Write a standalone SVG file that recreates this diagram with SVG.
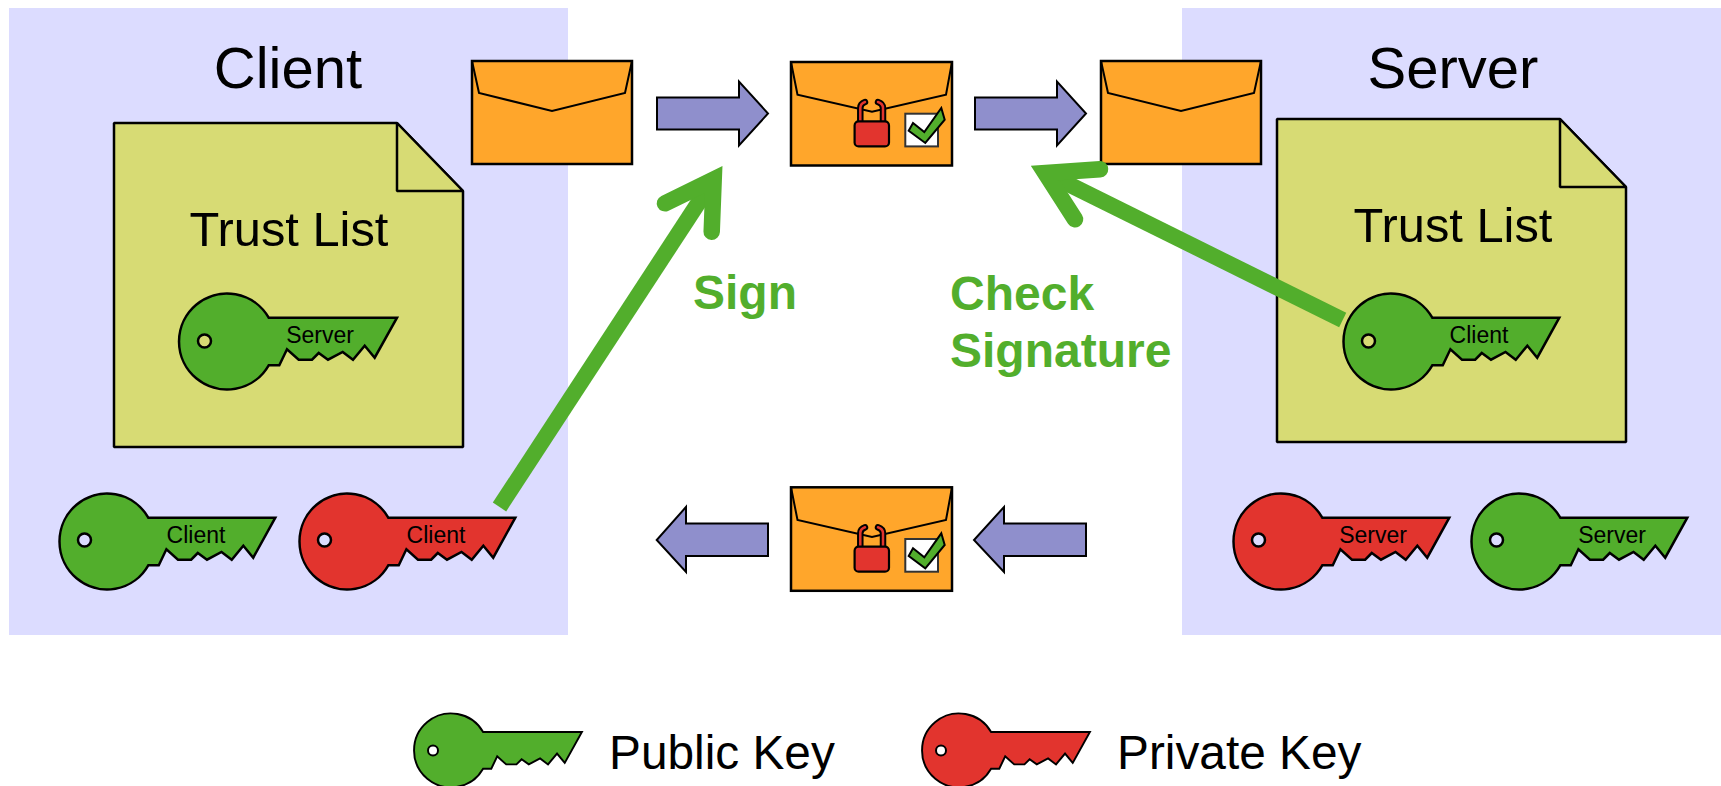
<svg xmlns="http://www.w3.org/2000/svg" width="1721" height="786" viewBox="0 0 1721 786">
<style>
text{font-family:"Liberation Sans",Arial,sans-serif;fill:#000}
.panel{fill:#dcdcff}
.doc{fill:#d7db74;stroke:#000;stroke-width:2.5;stroke-linejoin:bevel}
.env{fill:#ffa62b;stroke:#000;stroke-width:2.5}
.flap{fill:none;stroke:#000;stroke-width:2}
.arrow{fill:#8f8fcc;stroke:#000;stroke-width:2}
.kg{fill:#52ae2c}.kr{fill:#e2342e}
.hole{stroke:#000;stroke-width:2.5;fill:#dcdcff}
.title{font-size:58px;text-anchor:middle}
.tl{font-size:48.8px;text-anchor:middle}
.kl{font-size:23px;text-anchor:middle}
.lg{font-size:47.8px}
.act{font-size:48px;font-weight:bold;fill:#52ae2c}
.gl{fill:none;stroke:#52ae2c;stroke-width:16}
.gh{fill:none;stroke:#52ae2c;stroke-width:16.5;stroke-linecap:round;stroke-linejoin:miter}
</style>
<defs>
<path id="key" stroke="#000" stroke-width="2.5" stroke-linejoin="miter" d="M41.7-23.3L170-23.3L147.7 16.7L137.7 4.7L126 18.7L115.7 11L101 18.700L91.7 12L85 18.700L71.700 18.700L60 8.300L52.300 24.300L41.700 24.300A48 48 0 1 1 41.700-23.300Z"/>
<g id="envelope"><rect class="env" x="0" y="0" width="160" height="103"/><path class="flap" d="M0 0L7 32L80 50L153 32L160 0"/></g>
<g id="envelope-sealed">
<rect class="env" x="0" y="0" width="161" height="103.500"/>
<path class="flap" d="M0 0L6.500 32.700L81 49.700L155 32.700L161 0"/>
<path d="M69.300 59V46C69.300 43 71 41 74 40M92 59V46C92 43 90 41 87 40" fill="none" stroke="#000" stroke-width="6.500" stroke-linecap="round"/>
<path d="M69.300 59V46C69.300 43 71 41 74 40M92 59V46C92 43 90 41 87 40" fill="none" stroke="#e2342e" stroke-width="2.500" stroke-linecap="round"/>
<rect x="63.600" y="59.400" width="34.400" height="25" rx="4" fill="#e2342e" stroke="#000" stroke-width="2.200"/>
<rect x="114.300" y="51.700" width="32.700" height="32.700" fill="#fff" stroke="#333" stroke-width="2"/>
<path d="M117.700 68.700L122 61L133.300 70L150.300 46L153.700 57.700L134.300 81Z" fill="#52ae2c" stroke="#000" stroke-width="2"/>
</g>
<path id="arr" class="arrow" d="M0-16H82V-32L111 0L82 32V16H0Z"/>
</defs>
<rect class="panel" x="9" y="8" width="559" height="627"/>
<rect class="panel" x="1182" y="8" width="539" height="627"/>

<g id="client-title"><text class="title" x="288" y="88">Client</text></g>
<g id="server-title"><text class="title" x="1453" y="88">Server</text></g>

<g id="client-trust-list">
<path class="doc" d="M114 123H397L463 191V447H114Z"/>
<path class="doc" d="M397 123L463 191H397Z"/>
<text class="tl" x="289" y="246">Trust List</text>
<use href="#key" class="kg" x="227" y="341"/><circle class="hole" style="fill:#d7db74" cx="204.500" cy="341" r="6.500"/>
<text class="kl" x="320" y="343">Server</text>
</g>
<g id="server-trust-list">
<path class="doc" d="M1277 119H1560L1626 187V442H1277Z"/>
<path class="doc" d="M1560 119L1626 187H1560Z"/>
<text class="tl" x="1453" y="242">Trust List</text>
<use href="#key" class="kg" transform="translate(1391 341) scale(.99 1)"/><circle class="hole" style="fill:#d7db74" cx="1368.500" cy="341" r="6.500"/>
<text class="kl" x="1479" y="343">Client</text>
</g>

<g id="client-public-key"><use href="#key" class="kg" transform="translate(107 541) scale(.99 1)"/><circle class="hole" cx="84.500" cy="540" r="6.500"/><text class="kl" x="196" y="543">Client</text></g>
<g id="client-private-key"><use href="#key" class="kr" transform="translate(347 541) scale(.99 1)"/><circle class="hole" cx="324.500" cy="540" r="6.500"/><text class="kl" x="436" y="543">Client</text></g>
<g id="server-private-key"><use href="#key" class="kr" transform="translate(1281 541) scale(.99 1)"/><circle class="hole" cx="1258.500" cy="540" r="6.500"/><text class="kl" x="1373" y="543">Server</text></g>
<g id="server-public-key"><use href="#key" class="kg" transform="translate(1519 541) scale(.99 1)"/><circle class="hole" cx="1496.500" cy="540" r="6.500"/><text class="kl" x="1612" y="543">Server</text></g>

<g id="envelope-client"><use href="#envelope" x="472" y="61"/></g>
<g id="envelope-signed"><use href="#envelope-sealed" x="791" y="62"/></g>
<g id="envelope-server"><use href="#envelope" x="1101" y="61"/></g>
<g id="envelope-return"><use href="#envelope-sealed" x="791" y="487.300"/></g>

<g id="connectors">
<use href="#arr" x="657" y="113.500"/>
<use href="#arr" x="975" y="113.500"/>
<path class="arrow" d="M1086 523.500H1004V507L974 540L1004 572V556H1086Z"/>
<path class="arrow" d="M768 523.500H686V507L656.700 540L686 572V556H768Z"/>
<path class="gl" d="M499.500 507L712 182"/>
<path class="gh" d="M665 203.300L713.700 179.500L711.700 231.700"/>
<path class="gl" d="M1342.700 320L1050 175"/>
<path class="gh" d="M1100 169.300L1045.300 173L1075 219.300"/>
</g>

<g id="labels">
<text class="act" x="693" y="309">Sign</text>
<text class="act" x="950" y="310">Check</text>
<text class="act" x="950" y="367">Signature</text>
</g>

<g id="legend-public"><use href="#key" class="kg" transform="translate(451 750) scale(.77)"/><circle cx="433" cy="750.500" r="5" fill="#fff" stroke="#000" stroke-width="2"/><text class="lg" x="609" y="769">Public Key</text></g>
<g id="legend-private"><use href="#key" class="kr" transform="translate(959 750) scale(.77)"/><circle cx="941" cy="750.500" r="5" fill="#fff" stroke="#000" stroke-width="2"/><text class="lg" x="1117" y="769">Private Key</text></g>
</svg>
